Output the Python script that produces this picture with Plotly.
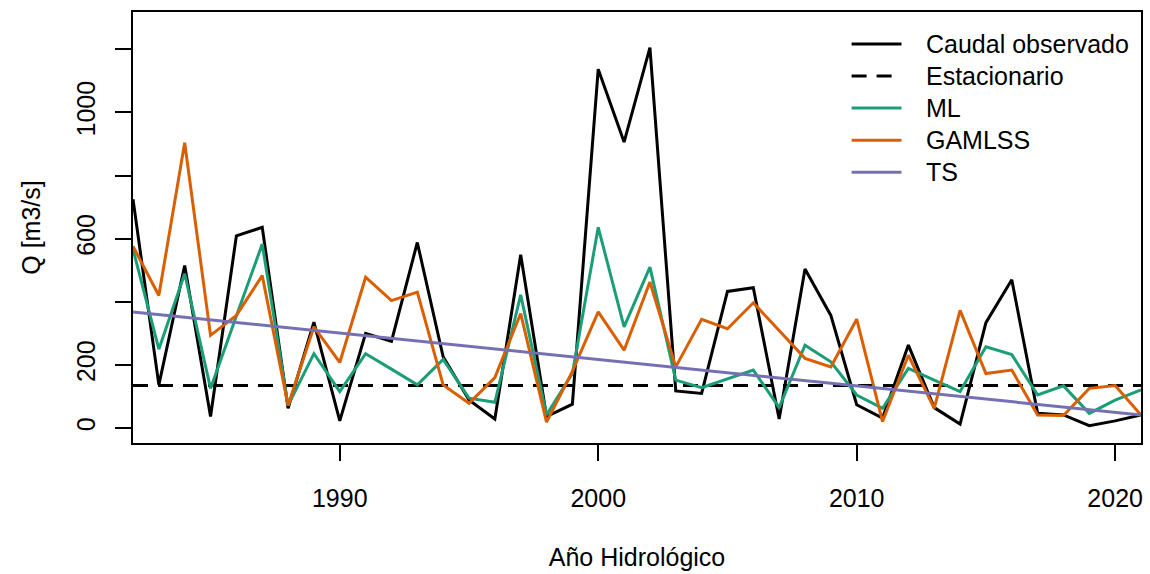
import plotly.graph_objects as go

years = list(range(1982, 2022))
caudal_observado = [725, 137, 515, 37, 609, 636, 63, 336, 23, 300,
                    275, 588, 226, 89, 29, 549, 37, 76, 1137, 906,
                    1205, 118, 110, 433, 445, 29, 504, 357, 74, 32,
                    263, 65, 13, 334, 470, 47, 42, 8, 23, 42]
ml = [567, 250, 489, 126, 355, 583, 72, 236, 116, 236,
      187, 137, 218, 95, 82, 422, 42, 173, 636, 321,
      510, 152, 128, 155, 184, 65, 263, 210, 105, 63,
      189, 152, 116, 258, 233, 105, 134, 47, 89, 121]
gamlss = [576, 420, 904, 294, 357, 483, 72, 321, 208, 478,
          404, 431, 137, 79, 160, 363, 19, 180, 368, 247,
          463, 194, 345, 315, 397, 309, 221, 194, 345, 21,
          231, 63, 373, 173, 184, 42, 40, 126, 135, 42]
ts_years = [1982, 2021]
ts_values = [368, 42]
estacionario_years = [1982, 2021]
estacionario_values = [135, 135]

y_tickvals = [0, 200, 400, 600, 800, 1000, 1200]
y_ticktext = ["0", "200", "", "600", "", "1000", ""]
x_tickvals = [1990, 2000, 2010, 2020]

legend_labels = ["Caudal observado", "Estacionario", "ML", "GAMLSS", "TS"]
legend_colors = ["black", "black", "#1B9E77", "#D95F02", "#7570B3"]
legend_dashes = ["solid", "15px,10px", "solid", "solid", "solid"]

FONT = "Liberation Sans, Arial, sans-serif"

fig = go.Figure()
series = [
    (years, caudal_observado),
    (estacionario_years, estacionario_values),
    (years, ml),
    (years, gamlss),
    (ts_years, ts_values),
]
for (xs, ys), name, col, dash in zip(series, legend_labels, legend_colors, legend_dashes):
    fig.add_trace(go.Scatter(x=xs, y=ys, mode="lines", name=name,
                             line=dict(color=col, width=3, dash=dash),
                             showlegend=False))

# Manual legend (top-right, no box), matching R's legend layout
leg_x0, leg_x1, leg_text_x = 0.7129, 0.7624, 0.785
leg_y_top, leg_dy = 0.926, 0.0745
for i, (name, col, dash) in enumerate(zip(legend_labels, legend_colors, legend_dashes)):
    yy = leg_y_top - i * leg_dy
    fig.add_shape(type="line", xref="paper", yref="paper",
                  x0=leg_x0, x1=leg_x1, y0=yy, y1=yy,
                  line=dict(color=col, width=3, dash=dash))
    fig.add_annotation(xref="paper", yref="paper", x=leg_text_x, y=yy,
                       text=name, showarrow=False, xanchor="left", yanchor="middle",
                       font=dict(family=FONT, size=25, color="black"))

fig.update_layout(
    width=1150, height=574,
    margin=dict(l=133, r=7, t=12, b=129),
    paper_bgcolor="white", plot_bgcolor="white",
    font=dict(family=FONT, size=25, color="black"),
    showlegend=False,
)
fig.update_xaxes(range=[1982, 2021], tickmode="array", tickvals=x_tickvals,
                 ticks="outside", ticklen=16, tickwidth=1.5, tickcolor="black",
                 showline=True, linecolor="black", linewidth=1.5, mirror=True,
                 showgrid=False, zeroline=False,
                 tickfont=dict(size=25), ticklabelstandoff=16,
                 title=dict(text="Año Hidrológico", font=dict(size=25), standoff=38))
fig.update_yaxes(range=[-47, 1318], tickmode="array", tickvals=y_tickvals,
                 ticktext=y_ticktext, tickangle=-90,
                 ticks="outside", ticklen=16, tickwidth=1.5, tickcolor="black",
                 showline=True, linecolor="black", linewidth=1.5, mirror=True,
                 showgrid=False, zeroline=False,
                 tickfont=dict(size=25), ticklabelstandoff=10,
                 title=dict(text="Q [m3/s]", font=dict(size=25), standoff=25))

fig.write_html("out.html")
